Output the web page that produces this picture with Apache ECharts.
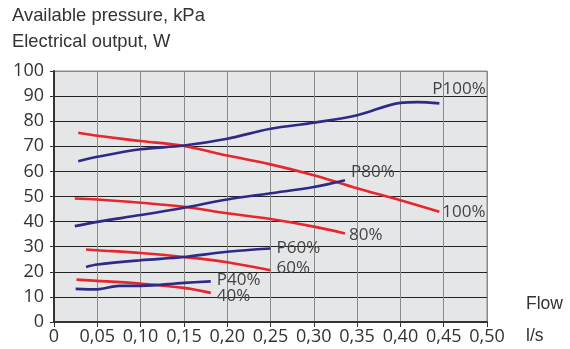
<!DOCTYPE html>
<html><head><meta charset="utf-8">
<script src="https://cdn.jsdelivr.net/npm/echarts@6/dist/echarts.min.js"></script>
<style>html,body{margin:0;padding:0;background:#fff}#c{width:570px;height:349px}</style>
</head><body><div id="c"></div>
<script>
const xTicks = ['0','0,05','0,10','0,15','0,20','0,25','0,30','0,35','0,40','0,45','0,50'];
const titleLines = ['Available pressure, kPa', 'Electrical output, W'];

const p100X = [0.028, 0.05, 0.10, 0.15, 0.20, 0.25, 0.30, 0.35, 0.40, 0.42, 0.445];
const p100Y = [64.0, 65.8, 68.8, 70.3, 73.0, 77.0, 79.4, 82.4, 87.3, 87.6, 87.1];
const r100X = [0.028, 0.05, 0.10, 0.15, 0.20, 0.25, 0.30, 0.35, 0.40, 0.445];
const r100Y = [75.4, 74.2, 72.1, 70.1, 66.3, 62.8, 58.5, 53.3, 48.5, 43.9];
const p80X = [0.024, 0.05, 0.10, 0.15, 0.20, 0.25, 0.30, 0.336];
const p80Y = [38.2, 39.9, 42.6, 45.5, 48.8, 51.3, 53.8, 56.5];
const r80X = [0.024, 0.05, 0.10, 0.15, 0.20, 0.25, 0.30, 0.336];
const r80Y = [49.2, 48.8, 47.5, 45.9, 43.3, 41.0, 38.0, 35.3];
const p60X = [0.037, 0.05, 0.10, 0.15, 0.20, 0.25];
const p60Y = [21.9, 22.9, 24.6, 25.9, 28.0, 29.3];
const r60X = [0.037, 0.05, 0.10, 0.15, 0.20, 0.25];
const r60Y = [28.9, 28.6, 27.5, 25.9, 23.8, 20.6];
const p40X = [0.025, 0.05, 0.075, 0.10, 0.15, 0.181];
const p40Y = [13.2, 13.0, 14.4, 14.4, 15.6, 16.2];
const r40X = [0.026, 0.05, 0.10, 0.15, 0.181];
const r40Y = [16.9, 16.4, 15.3, 13.6, 11.6];

const BLUE = '#2d2b85', RED = '#e8262b';
const FONT = 'Open Sans';
function pairs(xs, ys){ return xs.map((x,i)=>[x, ys[i]]); }
function ser(name, xs, ys, color, label, offset){
  return {
    type:'line', name, data: pairs(xs, ys), smooth: 0.35, symbol:'none',
    lineStyle:{color, width:2.6}, z: color===BLUE?3:2,
    endLabel:{show:true, formatter: label, offset, color:'#444', fontSize:17, fontFamily: FONT}
  };
}
const chart = echarts.init(document.getElementById('c'), null, {renderer:'canvas'});
const yLineColors = ['#222','#222','#222','#222','#222','#222','#222','#222','#222','#222','#8a8a8a'];
chart.setOption({
  animation:false,
  grid:{left:54, right:83, top:71, bottom:27, show:true, backgroundColor:'#e5e6e8', borderColor:'#8a8a8a', borderWidth:1},
  graphic:[
    {type:'text', left:12, top:7, style:{text:titleLines[0], fontSize:18.4, fontFamily:'Liberation Sans', fill:'#333'}},
    {type:'text', left:12, top:33, style:{text:titleLines[1], fontSize:18.4, fontFamily:'Liberation Sans', fill:'#333'}},
    {type:'text', left:526, top:295, style:{text:'Flow', fontSize:17.5, fontFamily:'Liberation Sans', fill:'#333'}},
    {type:'text', left:526, top:327, style:{text:'l/s', fontSize:17.5, fontFamily:'Liberation Sans', fill:'#333'}}
  ],
  xAxis:{type:'value', min:0, max:0.5, interval:0.05,
    axisLine:{show:true, lineStyle:{color:'#333', width:2}},
    axisTick:{show:true, length:5, lineStyle:{color:'#333'}},
    splitLine:{show:true, lineStyle:{color:'#8a8a8a', width:1}},
    axisLabel:{formatter:(v)=>xTicks[Math.round(v/0.05)], fontSize:18, fontFamily:FONT, color:'#333', margin:6}
  },
  yAxis:{type:'value', min:0, max:100, interval:10, offset:2,
    axisLine:{show:true, lineStyle:{color:'#333', width:2}},
    axisTick:{show:true, length:4, lineStyle:{color:'#333'}},
    splitLine:{show:true, lineStyle:{color:yLineColors, width:1}},
    axisLabel:{fontSize:18, fontFamily:FONT, color:'#333', margin:8}
  },
  series:[
    ser('P100', p100X, p100Y, BLUE, 'P100%', [-15,-14]),
    ser('100', r100X, r100Y, RED, '100%', [-5,0]),
    ser('P80', p80X, p80Y, BLUE, 'P80%', [-2,-8]),
    ser('80', r80X, r80Y, RED, '80%', [-4,2]),
    ser('P60', p60X, p60Y, BLUE, 'P60%', [-2,0]),
    ser('60', r60X, r60Y, RED, '60%', [-2,-2]),
    ser('P40', p40X, p40Y, BLUE, 'P40%', [-2,-1]),
    ser('40', r40X, r40Y, RED, '40%', [-2,3])
  ]
});
</script></body></html>
